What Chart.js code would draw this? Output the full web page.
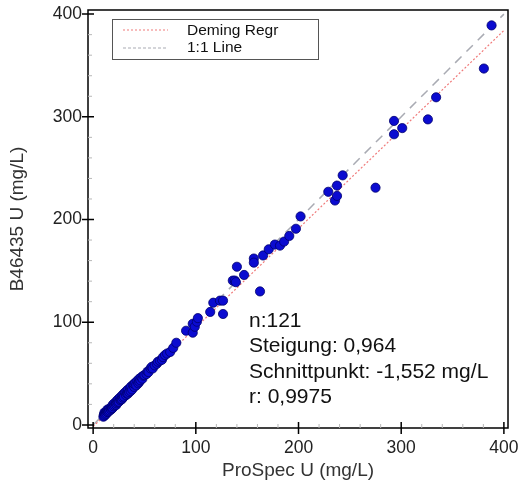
<!DOCTYPE html>
<html>
<head>
<meta charset="utf-8">
<script src="https://cdn.jsdelivr.net/npm/chart.js@4.4.1/dist/chart.umd.min.js"></script>
<style>
  html, body { margin: 0; padding: 0; background: #fff; }
  #wrap { width: 521px; height: 490px; }
</style>
</head>
<body>
<div id="wrap"><canvas id="chart"></canvas></div>
<script>
// ProSpec U (x) vs B46435 U (y), mg/L
const prospec = [
  10, 10.5, 11, 11, 11.5, 12, 12.5, 13, 13.5, 14, 14, 14.5, 15, 15.5, 16, 17, 17.5, 18, 18.5, 19,
  19, 20, 20.5, 21, 22, 22.5, 23, 23, 24, 24.5, 25, 26, 26.5, 27, 28, 28, 29, 29.5, 30, 31,
  32, 32.5, 33, 34, 34, 35, 36, 36.5, 37, 38, 39, 40, 40, 41, 42, 43, 44, 45, 45, 46,
  47, 48, 49, 50, 52, 53, 54, 56, 57, 58, 60, 62, 63, 65, 67, 68, 70, 72, 75, 78,
  81, 90.5, 97, 97, 99, 101, 102, 114, 117, 123.5, 126.5, 126.5, 136, 138, 139, 140, 147, 156.5, 156.5, 162.5,
  165.5, 171, 177, 182, 186, 191, 197.5, 202, 229, 235.5, 237.5, 237.5, 243, 275, 293, 293, 301, 326, 334, 380.5,
  388
];
const b46435 = [
  8, 10, 9, 12, 11, 10, 12.5, 11, 13, 12.5, 15, 14, 13, 15.5, 14, 16, 15, 17.5, 16, 19.5,
  16.5, 18, 21, 19, 21, 19.5, 23.5, 21, 22, 25, 22.5, 26.5, 24, 25, 28.5, 25, 26.5, 30, 27.5, 31.5,
  29, 33, 30.5, 34.5, 30.5, 32, 36, 33, 37.5, 34.5, 39, 37, 40, 41, 38.5, 43, 40.5, 45, 42, 43.5,
  46.5, 45, 48, 48.5, 49.5, 52, 51.5, 55, 56.5, 55, 58, 59.5, 61.5, 62.5, 63.4, 66, 68, 69.5, 71, 75,
  80, 91.7, 98.5, 89.8, 95.6, 100.5, 104, 110, 119, 121, 121, 108, 140.5, 140.5, 139, 154, 146, 162, 158, 130,
  165, 171, 175.6, 174.6, 178.5, 184, 191, 203, 227, 218.5, 233, 223, 243, 231, 296, 283, 289, 297.5, 319, 347,
  389
];
const demingSlope = 0.964;
const demingIntercept = -1.552;
const lineRange = [0, 400];
const axisTicks = [0, 100, 200, 300, 400];
const legendLabels = ['Deming Regr', '1:1 Line'];
const statLines = ['n:121', 'Steigung: 0,964', 'Schnittpunkt: -1,552 mg/L', 'r: 0,9975'];

const FONT = '"Liberation Sans", Arial, sans-serif';
const DEMING_COLOR = '#f07a7a';
const IDENT_COLOR = '#a9abb3';

const points = prospec.map((x, i) => ({ x, y: b46435[i] }));

const decorations = {
  id: 'decorations',
  afterDraw(chart) {
    const { ctx, chartArea: a, scales: { x, y } } = chart;
    ctx.save();
    // frame
    ctx.strokeStyle = '#000';
    ctx.lineWidth = 1.5;
    ctx.strokeRect(a.left, a.top, a.right - a.left, a.bottom - a.top);
    // ticks, major crossing the axis, minor inside and faint
    for (let v = 0; v <= 400; v += 20) {
      const major = v % 100 === 0;
      const px = x.getPixelForValue(v);
      const py = y.getPixelForValue(v);
      ctx.strokeStyle = major ? '#000' : '#b8b8b8';
      ctx.lineWidth = major ? 1.5 : 1;
      ctx.beginPath();
      if (major) {
        ctx.moveTo(px, a.bottom + 6); ctx.lineTo(px, a.bottom - 6);
        ctx.moveTo(a.left - 6, py); ctx.lineTo(a.left + 6, py);
      } else {
        ctx.moveTo(px, a.bottom); ctx.lineTo(px, a.bottom - 4);
        ctx.moveTo(a.left, py); ctx.lineTo(a.left + 4, py);
      }
      ctx.stroke();
    }
    // legend box
    ctx.strokeStyle = '#555';
    ctx.lineWidth = 1;
    ctx.strokeRect(112.5, 19.5, 206, 40);
    ctx.lineWidth = 1.2;
    ctx.strokeStyle = DEMING_COLOR;
    ctx.setLineDash([2, 2]);
    ctx.beginPath(); ctx.moveTo(123, 30); ctx.lineTo(168, 30); ctx.stroke();
    ctx.strokeStyle = IDENT_COLOR;
    ctx.setLineDash([3, 2]);
    ctx.beginPath(); ctx.moveTo(123, 48); ctx.lineTo(168, 48); ctx.stroke();
    ctx.setLineDash([]);
    ctx.fillStyle = '#111';
    ctx.font = '15.5px ' + FONT;
    ctx.textBaseline = 'middle';
    ctx.textAlign = 'left';
    ctx.fillText(legendLabels[0], 187, 31);
    ctx.fillText(legendLabels[1], 187, 48);
    // statistics
    ctx.font = '21px ' + FONT;
    statLines.forEach((t, i) => ctx.fillText(t, 249, 321 + i * 25.5));
    ctx.restore();
  }
};

new Chart(document.getElementById('chart'), {
  type: 'scatter',
  data: {
    datasets: [
      {
        label: 'Data',
        data: points,
        backgroundColor: '#0b0bd0',
        borderColor: '#00006e',
        borderWidth: 0.8,
        pointRadius: 4.6,
        order: 0
      },
      {
        type: 'line',
        label: legendLabels[0],
        data: lineRange.map(v => ({ x: v, y: demingSlope * v + demingIntercept })),
        borderColor: DEMING_COLOR,
        borderDash: [2, 2],
        borderWidth: 1.2,
        pointRadius: 0,
        order: 1
      },
      {
        type: 'line',
        label: legendLabels[1],
        data: lineRange.map(v => ({ x: v, y: v })),
        borderColor: IDENT_COLOR,
        borderDash: [9, 7],
        borderWidth: 1.5,
        pointRadius: 0,
        order: 2
      }
    ]
  },
  options: {
    responsive: true,
    maintainAspectRatio: false,
    animation: false,
    layout: { padding: { top: 10, right: 13, bottom: 4, left: 0 } },
    plugins: { legend: { display: false }, tooltip: { enabled: false } },
    scales: {
      x: {
        type: 'linear',
        min: -5,
        max: 404,
        grid: { display: false, drawTicks: false },
        border: { display: false },
        afterBuildTicks: s => { s.ticks = axisTicks.map(v => ({ value: v })); },
        afterFit: s => { s.height = 58; s.paddingLeft = 0; s.paddingRight = 0; },
        ticks: { padding: 10, color: '#222', font: { family: FONT, size: 17.5 }, maxRotation: 0 },
        title: { display: true, text: 'ProSpec U (mg/L)', color: '#333', font: { family: FONT, size: 19 }, padding: { top: 0, bottom: 4 } }
      },
      y: {
        type: 'linear',
        min: -3,
        max: 404,
        grid: { display: false, drawTicks: false },
        border: { display: false },
        afterBuildTicks: s => { s.ticks = axisTicks.map(v => ({ value: v })); },
        afterFit: s => { s.width = 88; s.paddingTop = 0; s.paddingBottom = 0; },
        ticks: { padding: 6, color: '#222', font: { family: FONT, size: 17.5 } },
        title: { display: true, text: 'B46435 U (mg/L)', color: '#333', font: { family: FONT, size: 19 }, padding: { top: 6, bottom: 0 } }
      }
    }
  },
  plugins: [decorations]
});
</script>
</body>
</html>
